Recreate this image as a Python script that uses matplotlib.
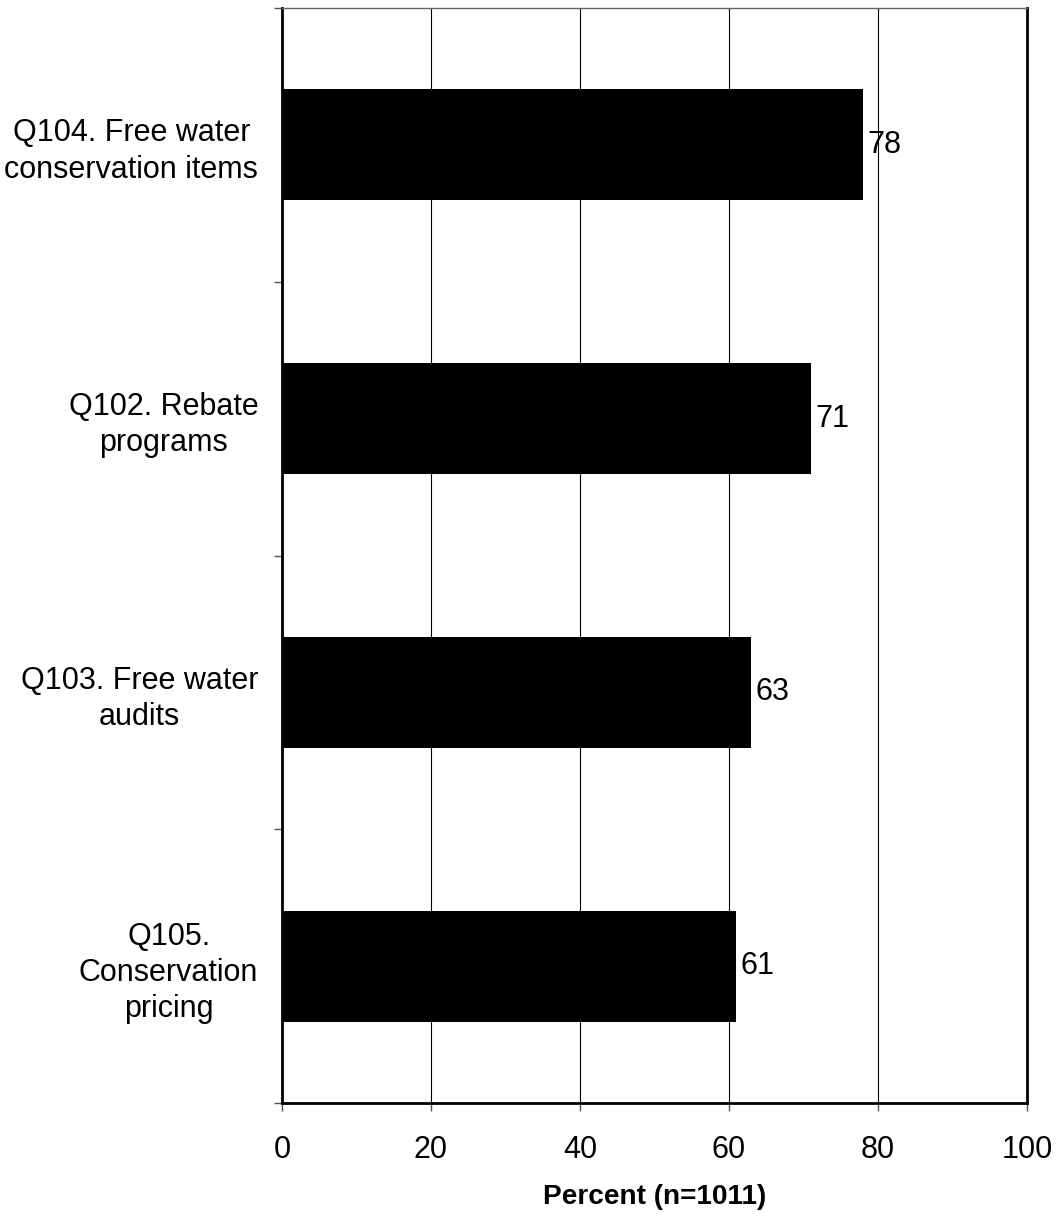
import matplotlib.pyplot as plt
import numpy as np

plt.rcParams['font.family'] = ['Liberation Sans', 'DejaVu Sans']

# data (top to bottom)
categories = ["Q104. Free water\nconservation items",
              "Q102. Rebate\nprograms",
              "Q103. Free water\naudits",
              "Q105.\nConservation\npricing"]
values = [78, 71, 63, 61]
x_ticks = [0, 20, 40, 60, 80, 100]

fig = plt.figure(figsize=(10.56, 12.16), dpi=100)
ax = fig.add_axes([0.267, 0.0929, 0.7055, 0.9005])

pos = np.arange(len(categories))
ax.barh(pos, values, height=0.405, color='black', zorder=3)

for p, v in zip(pos, values):
    ax.text(v + 0.6, p, str(v), va='center', ha='left', fontsize=22, zorder=4)

ax.set_xlim(0, 100)
ax.set_ylim(len(categories) - 0.5, -0.5)

ax.set_xticks(x_ticks)
ax.set_xticklabels([str(t) for t in x_ticks], fontsize=22)
ax.tick_params(axis='x', direction='out', length=6, width=1, color='#555555', pad=17)
ax.xaxis.grid(True, color='black', linewidth=0.8, zorder=0)

# y: labels at band centers, ticks at band boundaries
ax.set_yticks(pos)
ax.set_yticklabels(categories, fontsize=22, ha='right', multialignment='center',
                   linespacing=1.27)
ax.tick_params(axis='y', which='major', length=0, pad=17)
ax.set_yticks(np.arange(-0.5, len(categories)), minor=True)
ax.tick_params(axis='y', which='minor', direction='out', length=6, width=1, color='#555555')

for side in ['left', 'bottom', 'right']:
    ax.spines[side].set_linewidth(2)
    ax.spines[side].set_color('black')
ax.spines['top'].set_linewidth(1)
ax.spines['top'].set_color('#666666')

ax.set_xlabel("Percent (n=1011)", fontsize=20.2, fontweight='bold', labelpad=14)

fig.savefig('out.png', dpi=100)
